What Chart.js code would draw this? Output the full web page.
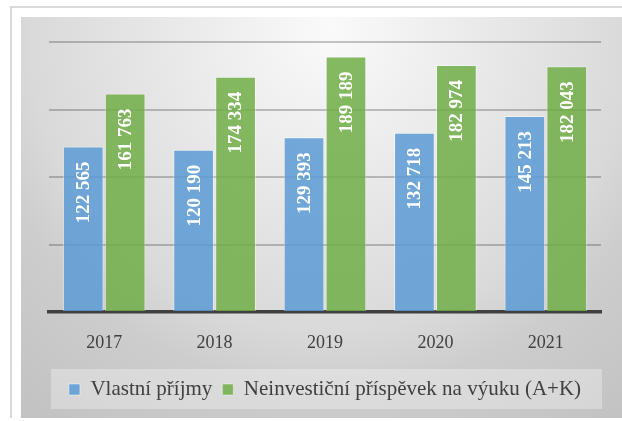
<!DOCTYPE html>
<html>
<head>
<meta charset="utf-8">
<script src="https://cdn.jsdelivr.net/npm/chart.js@4/dist/chart.umd.min.js"></script>
<style>
  html, body { margin: 0; padding: 0; background: #fff; }
  #wrap { width: 622px; height: 421px; position: relative; }
</style>
</head>
<body>
<div id="wrap"><canvas id="chart" width="622" height="421"></canvas></div>
<script>
// Chart data
const years = ["2017", "2018", "2019", "2020", "2021"];
const seriesNames = ["Vlastní příjmy", "Neinvestiční příspěvek na výuku (A+K)"];
const ownIncome = [122565, 120190, 129393, 132718, 145213];
const teachingGrant = [161763, 174334, 189189, 182974, 182043];

// format 122565 -> "122 565"
function fmt(n) {
  return String(n).replace(/\B(?=(\d{3})+(?!\d))/g, " ");
}

// Background frame + gradient panel + legend box
const backdrop = {
  id: "backdrop",
  beforeDraw(chart) {
    const ctx = chart.ctx;
    ctx.save();
    ctx.fillStyle = "#ffffff";
    ctx.fillRect(0, 0, chart.width, chart.height);
    // outer frame lines
    ctx.fillStyle = "#d9d9d9";
    ctx.fillRect(10, 6, chart.width - 10, 2);
    ctx.fillRect(10, 6, 2, 412);
    // gradient panel
    let g = ctx.createRadialGradient(330, 30, 0, 330, 30, 480);
    g.addColorStop(0, "#fafafa");
    g.addColorStop(0.63, "#d9d9d9");
    g.addColorStop(0.75, "#cdcdcd");
    g.addColorStop(1, "#c3c3c3");
    ctx.fillStyle = g;
    ctx.fillRect(21, 17, chart.width - 21, 401);
    // legend background
    const a = chart.chartArea;
    const lg = chart.legend;
    ctx.fillStyle = "rgba(255,255,255,0.3)";
    ctx.fillRect(a.left + 2, lg.top, a.right - a.left - 1, lg.height - 1);
    ctx.restore();
  }
};

// Value labels inside bars, rotated
const barLabels = {
  id: "barLabels",
  afterDatasetsDraw(chart) {
    const ctx = chart.ctx;
    ctx.save();
    ctx.fillStyle = "#ffffff";
    ctx.font = "bold 19px 'Liberation Serif'";
    ctx.textAlign = "right";
    ctx.textBaseline = "middle";
    chart.data.datasets.forEach((ds, i) => {
      chart.getDatasetMeta(i).data.forEach((bar, j) => {
        ctx.save();
        ctx.translate(bar.x + 1, bar.y + 15);
        ctx.rotate(-Math.PI / 2);
        ctx.fillText(fmt(ds.data[j]), 0, 0);
        ctx.restore();
      });
    });
    ctx.restore();
  }
};

new Chart(document.getElementById("chart"), {
  type: "bar",
  data: {
    labels: years,
    datasets: [
      {
        label: seriesNames[0],
        data: ownIncome,
        backgroundColor: "rgba(91,155,213,0.85)",
        borderColor: "rgba(255,255,255,0.45)",
        borderWidth: 1
      },
      {
        label: seriesNames[1],
        data: teachingGrant,
        backgroundColor: "rgba(112,173,71,0.85)",
        borderColor: "rgba(255,255,255,0.45)",
        borderWidth: 1
      }
    ]
  },
  options: {
    responsive: false,
    animation: false,
    layout: { padding: { left: 49, right: 21, top: 42, bottom: 11 } },
    datasets: { bar: { categoryPercentage: 0.76, barPercentage: 0.97 } },
    scales: {
      x: {
        grid: { display: false, drawTicks: false },
        border: { color: "#404040", width: 3.5 },
        ticks: {
          color: "#404040",
          padding: 20,
          font: { family: "'Liberation Serif'", size: 18 }
        },
        afterFit(scale) { scale.height = 57; }
      },
      y: {
        min: 0,
        max: 200000,
        ticks: { display: false, stepSize: 50000 },
        grid: {
          drawTicks: false,
          lineWidth: 2,
          color: c => (c.tick && c.tick.value === 0 ? "rgba(0,0,0,0)" : "rgba(0,0,0,0.22)")
        },
        border: { display: false }
      }
    },
    plugins: {
      tooltip: { enabled: false },
      legend: {
        position: "bottom",
        labels: {
          boxWidth: 11,
          boxHeight: 11,
          padding: 10,
          color: "#404040",
          font: { family: "'Liberation Serif'", size: 21 }
        }
      }
    }
  },
  plugins: [backdrop, barLabels]
});
</script>
</body>
</html>
